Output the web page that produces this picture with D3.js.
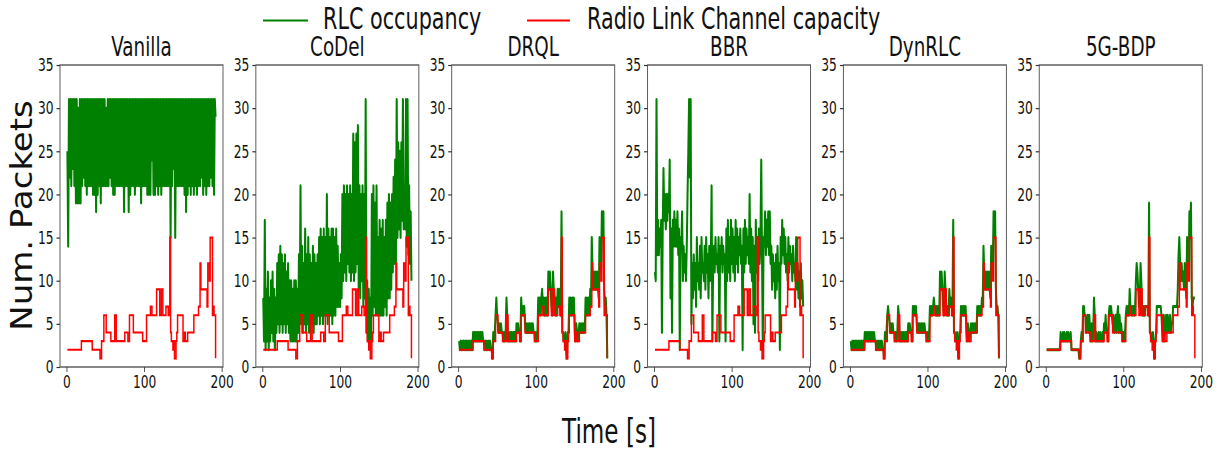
<!DOCTYPE html>
<html>
<head>
<meta charset="utf-8">
<script src="https://cdn.jsdelivr.net/npm/d3@7"></script>
<style>
  html, body { margin: 0; padding: 0; background: #fff; }
  svg { display: block; font-family: "DejaVu Sans", sans-serif; }
</style>
</head>
<body>
<svg id="chart" width="1225" height="450"></svg>
<script>
// Queue-management schemes, one panel each
const methods = ["Vanilla", "CoDel", "DRQL", "BBR", "DynRLC", "5G-BDP"];

// Radio link channel capacity (packets), as change points [s] -> value
const capTimes  = [1, 19, 33, 43, 45, 48, 51, 57, 62, 64, 75, 79, 81, 86, 98, 103, 108, 110, 116, 120,
                   122, 124, 128, 131, 133, 134, 135, 137, 138, 139, 141, 142, 143, 150, 152, 153, 156, 164, 170, 172,
                   173, 181, 182, 184, 185, 188, 189, 190, 192];
const capValues = [2, 3, 2, 1, 3, 6, 4, 3, 6, 3, 4, 3, 6, 4, 3, 6, 7, 6, 9, 6,
                   9, 6, 7, 6, 15, 4, 3, 2, 3, 1, 3, 4, 6, 3, 4, 3, 4, 6, 7, 12,
                   9, 7, 12, 10, 15, 6, 7, 6, 1];

// RLC occupancy (packets), one sample per second starting at t = 1 s
const occStart = 1;
const occVanilla = [
  25,14,31,22,31,21,31,23,31,21,31,19,31,19,30,19,
  31,19,31,21,31,22,31,21,31,20,31,21,31,21,31,21,
  31,20,31,20,31,18,31,20,31,21,31,19,31,21,31,21,
  31,21,30,21,31,21,31,22,31,21,31,20,31,20,31,21,
  31,21,31,21,31,21,31,21,31,18,31,21,31,21,31,18,
  31,20,31,21,31,21,31,20,31,21,31,21,31,21,31,19,
  31,21,31,21,31,21,31,20,31,20,31,20,31,24,31,20,
  31,20,31,21,31,20,31,21,31,20,31,21,31,21,31,21,
  31,21,31,21,31,15,31,21,31,23,31,15,31,21,31,21,
  31,21,31,21,31,21,31,20,31,18,31,20,31,21,31,20,
  31,21,31,20,31,21,31,20,31,21,31,21,31,22,31,20,
  31,21,31,20,31,21,31,21,31,22,31,21,31,20,31,29
];
const occCoDel = [
  8,3,17,2,9,3,11,2,8,3,10,4,11,3,9,2,
  8,4,12,5,13,4,14,5,13,4,12,5,13,4,11,5,
  12,4,10,3,10,3,9,3,10,3,10,3,9,4,13,5,
  21,5,14,4,12,5,16,4,13,5,15,4,13,5,12,5,
  14,4,13,5,12,5,13,6,15,5,16,6,15,5,16,6,
  15,6,20,5,16,6,15,6,16,5,16,6,15,6,16,7,
  14,7,12,7,13,8,20,10,21,11,20,10,21,12,20,11,
  21,10,20,11,27,10,26,11,27,12,28,9,21,8,20,10,
  21,7,20,8,31,4,10,3,9,3,8,3,20,6,21,7,
  19,6,21,6,15,6,17,6,16,6,17,6,15,7,17,6,
  19,8,20,8,19,9,20,11,22,12,24,12,31,15,26,16,
  25,15,26,17,31,16,21,16,31,14,31,13,21,12,18,10
];
const occDRQL = [
  3,2,3,2,3,2,3,2,3,2,3,2,3,2,3,2,
  3,2,4,3,4,3,4,3,4,3,4,3,4,3,4,3,
  3,2,3,2,3,2,3,2,3,2,2,1,4,3,4,6,
  8,6,5,4,5,4,5,4,4,3,4,3,4,8,6,3,
  4,3,4,3,4,3,4,3,4,3,5,4,5,4,4,3,
  8,6,7,6,7,5,4,5,4,5,4,5,4,5,4,5,
  4,4,3,4,3,4,8,6,8,6,8,9,7,8,6,8,
  6,8,6,11,9,11,9,7,6,11,9,8,6,8,6,9,
  7,9,7,6,18,4,4,3,3,4,2,1,4,4,8,6,
  8,6,8,6,8,4,3,5,4,3,4,5,4,5,4,5,
  4,5,4,8,6,8,6,8,6,9,7,15,11,9,11,9,
  11,9,11,9,8,15,12,11,18,15,18,9,7,8,6,1
];
const occBBR = [
  11,10,31,13,17,13,16,14,17,4,16,23,17,20,16,20,
  17,20,18,24,8,16,4,17,14,18,14,17,14,18,13,16,
  2,15,14,18,10,14,11,13,10,14,20,25,31,22,31,5,
  12,8,13,9,12,7,15,10,12,9,14,8,15,11,12,10,
  14,9,15,11,13,8,14,10,12,21,3,12,14,11,15,12,
  13,11,15,3,14,12,15,11,14,12,13,3,16,10,17,11,
  15,10,17,12,16,11,15,10,17,12,16,11,15,13,16,12,
  14,2,16,11,17,12,16,13,15,12,20,11,16,10,15,5,
  14,4,17,11,15,10,16,12,15,24,13,2,15,14,18,13,
  17,14,18,13,18,12,14,9,13,10,12,8,13,9,14,10,
  12,2,15,12,17,13,16,12,15,11,13,10,15,11,14,12,
  13,10,14,11,12,10,15,9,12,8,11,7,12,8,10,7
];
const occDynRLC = [
  3,2,3,2,3,2,3,2,3,2,3,2,3,2,3,2,
  3,2,4,3,4,3,4,3,4,3,4,3,4,3,4,3,
  3,2,3,2,3,2,3,2,3,2,2,1,4,3,4,6,
  7,6,5,4,5,4,5,4,4,3,4,3,4,7,6,3,
  4,3,4,3,4,3,4,3,4,3,5,4,5,4,4,3,
  7,6,7,6,7,5,4,5,4,5,4,5,4,5,4,5,
  4,4,3,4,3,4,7,6,7,6,7,8,7,7,6,7,
  6,7,6,11,9,11,9,7,6,11,9,7,6,7,6,9,
  7,8,7,6,17,4,4,3,3,4,2,1,4,4,7,6,
  7,6,7,6,7,4,3,5,4,3,4,5,4,5,4,5,
  4,5,4,7,6,7,6,7,6,8,7,14,11,9,11,9,
  11,9,11,9,8,14,12,11,18,15,18,9,7,7,6,1
];
const occ5GBDP = [
  2,2,2,2,2,2,2,2,2,2,2,2,2,2,2,2,
  2,2,4,3,3,4,3,4,3,3,4,3,4,3,3,4,
  2,2,2,2,2,2,2,2,2,2,1,1,3,4,3,7,
  7,6,6,4,5,6,4,6,4,3,5,3,4,8,6,3,
  4,3,3,4,3,4,3,3,4,3,5,4,6,4,4,3,
  6,7,6,7,6,5,6,4,5,6,4,6,7,4,6,4,
  5,4,3,4,3,4,6,7,6,7,6,9,7,7,6,7,
  7,6,7,10,12,11,9,7,7,12,10,7,6,7,6,7,
  7,7,7,6,19,4,4,3,3,4,2,1,3,4,7,7,
  7,7,7,7,6,4,3,6,3,5,6,4,6,5,4,6,
  4,5,5,7,7,7,7,7,7,9,13,15,12,10,12,10,
  11,9,12,10,8,15,13,11,18,15,19,8,7,8,8,8
];
const occupancy = [occVanilla, occCoDel, occDRQL, occBBR, occDynRLC, occ5GBDP];

const xTicks = [0, 100, 200];
const yTicks = [0, 5, 10, 15, 20, 25, 30, 35];
const seriesNames = ["RLC occupancy", "Radio Link Channel capacity"];
const seriesColors = ["green", "red"];

// ---- layout (the figure is drawn wide and compressed horizontally) ----
const K = 0.68;
const px = v => v / K;             // screen x -> drawing x
const panelW = px(163);
const panelStep = px(195.85);
const panelX0 = px(60);
const plotTop = 65, plotBottom = 367;

const svg = d3.select("#chart");
const fig = svg.append("g").attr("transform", `scale(${K},1)`);

const x = d3.scaleLinear().domain([-8.55, 201.55]).range([0, panelW]);
const y = d3.scaleLinear().domain([0, 35]).range([plotBottom, plotTop]);

const capData = capTimes.map((t, i) => [t, capValues[i]]);
const capLine = d3.line().x(d => x(d[0])).y(d => y(d[1])).curve(d3.curveStepAfter);
const occLine = d3.line().x(d => x(d[0])).y(d => y(d[1]));

methods.forEach((name, i) => {
  const g = fig.append("g").attr("transform", `translate(${panelX0 + i * panelStep},0)`);

  // occupancy then capacity on top
  const occ = occupancy[i].map((v, j) => [occStart + j, v]);
  g.append("path").datum(occ)
    .attr("d", occLine).attr("fill", "none")
    .attr("stroke", seriesColors[0]).attr("stroke-width", 3)
    .attr("stroke-linejoin", "round");
  g.append("path").datum(capData)
    .attr("d", capLine).attr("fill", "none")
    .attr("stroke", seriesColors[1]).attr("stroke-width", 2.2);

  // frame
  g.append("rect")
    .attr("x", 0).attr("y", plotTop).attr("width", panelW).attr("height", plotBottom - plotTop)
    .attr("fill", "none").attr("stroke", "#555").attr("stroke-width", 1.4);

  // axes
  const ay = g.append("g")
    .call(d3.axisLeft(y).tickValues(yTicks).tickFormat(d3.format("d")).tickSize(px(3.5)).tickPadding(px(3)));
  const ax = g.append("g").attr("transform", `translate(0,${plotBottom})`)
    .call(d3.axisBottom(x).tickValues(xTicks).tickFormat(d3.format("d")).tickSize(5).tickPadding(3));
  [ax, ay].forEach(a => {
    a.select(".domain").remove();
    a.selectAll(".tick line").attr("stroke", "#333").attr("stroke-width", 1.2);
    a.selectAll(".tick text").attr("fill", "#111").style("font-size", "18px")
      .style("font-family", '"DejaVu Sans", sans-serif');
  });

  // panel title
  g.append("text")
    .attr("x", panelW / 2).attr("y", 56)
    .attr("text-anchor", "middle").style("font-size", "27px").attr("fill", "#111")
    .text(name);
});

// legend
const legendItems = [
  { lineX0: px(263), lineX1: px(308), textX: px(323) },
  { lineX0: px(527), lineX1: px(570), textX: px(587) }
];
legendItems.forEach((it, i) => {
  fig.append("line")
    .attr("x1", it.lineX0).attr("x2", it.lineX1).attr("y1", 20.5).attr("y2", 20.5)
    .attr("stroke", seriesColors[i]).attr("stroke-width", 2);
  fig.append("text")
    .attr("x", it.textX).attr("y", 29)
    .style("font-size", "30.5px").attr("fill", "#111")
    .text(seriesNames[i]);
});

// x label
fig.append("text")
  .attr("x", px(609)).attr("y", 443)
  .attr("text-anchor", "middle").style("font-size", "34px").attr("fill", "#111")
  .text("Time [s]");

// y label (drawn in screen space)
svg.append("text")
  .attr("transform", "translate(32,215.5) rotate(-90) scale(1,0.88)")
  .attr("text-anchor", "middle").style("font-size", "34px").attr("fill", "#111")
  .text("Num. Packets");
</script>
</body>
</html>
